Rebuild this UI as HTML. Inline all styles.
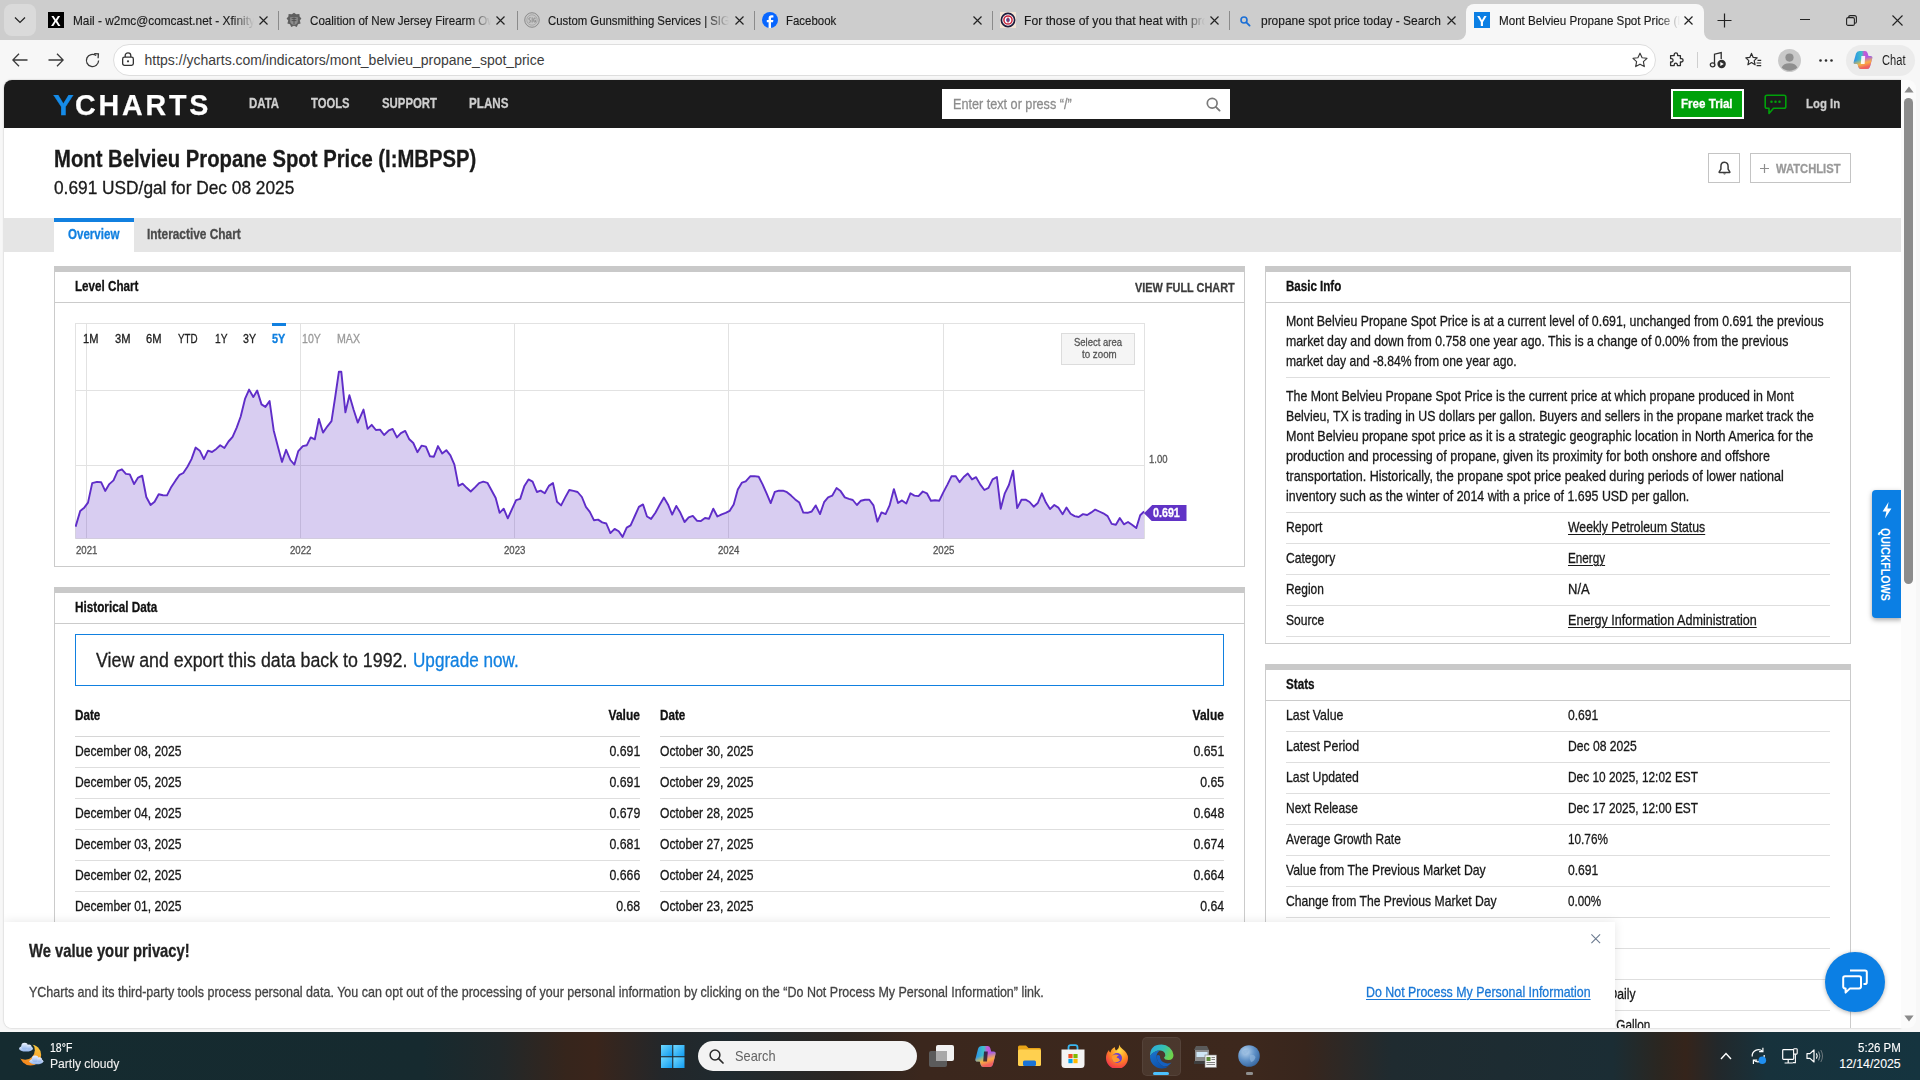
<!DOCTYPE html><html lang="en"><head><meta charset="utf-8"><title>Mont Belvieu Propane Spot Price</title><style>
html,body{margin:0;padding:0}
body{width:1920px;height:1080px;overflow:hidden;background:#f7f7f7;position:relative;font-family:"Liberation Sans",sans-serif;-webkit-font-smoothing:antialiased}
.b{position:absolute;display:block}
.t{position:absolute;white-space:nowrap;line-height:1;transform-origin:0 0;display:block;margin:0;padding:0;font-weight:400;font-style:normal;text-decoration:none}
#vp{position:absolute;left:4px;top:80px;width:1897px;height:948px;overflow:hidden;background:#fff;border-radius:8px 0 0 8px;box-shadow:0 0 2px rgba(0,0,0,.28)}
#pg{position:absolute;left:-4px;top:-80px;width:1920px;height:1080px}

</style></head><body>
<div class="b" style="left:0px;top:0px;width:1920px;height:40px;background:#cdcdcd;"></div>
<div class="b" style="left:4px;top:4px;width:32px;height:32px;background:#dadada;border-radius:8px;"></div>
<svg class="b" style="left:14px;top:16px;" width="12" height="8" viewBox="0 0 12 8"><path d="M1 1.5 L6 6.5 L11 1.5" fill="none" stroke="#222" stroke-width="1.2"/></svg>
<div class="b" style="left:1466px;top:4px;width:238px;height:36px;background:#f7f7f7;border-radius:8px 8px 0 0;"></div>
<svg class="b" style="left:1458px;top:32px;" width="8" height="8" viewBox="0 0 8 8"><path d="M8 0 V8 H0 A8 8 0 0 0 8 0Z" fill="#f7f7f7"/></svg>
<svg class="b" style="left:1704px;top:32px;" width="8" height="8" viewBox="0 0 8 8"><path d="M0 0 V8 H8 A8 8 0 0 1 0 0Z" fill="#f7f7f7"/></svg>
<div class="b" style="left:72.7px;top:12px;width:181px;height:18px;overflow:hidden;-webkit-mask-image:linear-gradient(90deg,#000 88%,transparent 100%);mask-image:linear-gradient(90deg,#000 88%,transparent 100%);">
<span class="t" style="top:3px;font-size:12.4px;color:#1a1a1a;left:0px;transform:scaleX(0.9561);-webkit-text-stroke:0.15px;">Mail - w2mc@comcast.net - Xfinity Connect</span>
</div>
<svg class="b" style="left:258.8px;top:16px;" width="9" height="9" viewBox="0 0 9 9"><path d="M0.5 0.5 L8.5 8.5 M8.5 0.5 L0.5 8.5" stroke="#222" stroke-width="1.15" fill="none"/></svg>
<div class="b" style="left:278px;top:10.5px;width:1px;height:19px;background:#8b8b8b;"></div>
<div class="b" style="left:310.2px;top:12px;width:181px;height:18px;overflow:hidden;-webkit-mask-image:linear-gradient(90deg,#000 88%,transparent 100%);mask-image:linear-gradient(90deg,#000 88%,transparent 100%);">
<span class="t" style="top:3px;font-size:12.4px;color:#1a1a1a;left:0px;transform:scaleX(0.9367);-webkit-text-stroke:0.15px;">Coalition of New Jersey Firearm Owners</span>
</div>
<svg class="b" style="left:496.3px;top:16px;" width="9" height="9" viewBox="0 0 9 9"><path d="M0.5 0.5 L8.5 8.5 M8.5 0.5 L0.5 8.5" stroke="#222" stroke-width="1.15" fill="none"/></svg>
<div class="b" style="left:516.5px;top:10.5px;width:1px;height:19px;background:#8b8b8b;"></div>
<div class="b" style="left:548.2px;top:12px;width:181px;height:18px;overflow:hidden;-webkit-mask-image:linear-gradient(90deg,#000 88%,transparent 100%);mask-image:linear-gradient(90deg,#000 88%,transparent 100%);">
<span class="t" style="top:3px;font-size:12.4px;color:#1a1a1a;left:0px;transform:scaleX(0.9180);-webkit-text-stroke:0.15px;">Custom Gunsmithing Services | SIG SAUER</span>
</div>
<svg class="b" style="left:734.5px;top:16px;" width="9" height="9" viewBox="0 0 9 9"><path d="M0.5 0.5 L8.5 8.5 M8.5 0.5 L0.5 8.5" stroke="#222" stroke-width="1.15" fill="none"/></svg>
<div class="b" style="left:754.3px;top:10.5px;width:1px;height:19px;background:#8b8b8b;"></div>
<div class="b" style="left:786.2px;top:12px;width:181px;height:18px;overflow:hidden;">
<span class="t" style="top:3px;font-size:12.4px;color:#1a1a1a;left:0px;transform:scaleX(0.9236);-webkit-text-stroke:0.15px;">Facebook</span>
</div>
<svg class="b" style="left:973px;top:16px;" width="9" height="9" viewBox="0 0 9 9"><path d="M0.5 0.5 L8.5 8.5 M8.5 0.5 L0.5 8.5" stroke="#222" stroke-width="1.15" fill="none"/></svg>
<div class="b" style="left:992.3px;top:10.5px;width:1px;height:19px;background:#8b8b8b;"></div>
<div class="b" style="left:1024.2px;top:12px;width:181px;height:18px;overflow:hidden;-webkit-mask-image:linear-gradient(90deg,#000 88%,transparent 100%);mask-image:linear-gradient(90deg,#000 88%,transparent 100%);">
<span class="t" style="top:3px;font-size:12.4px;color:#1a1a1a;left:0px;transform:scaleX(0.9819);-webkit-text-stroke:0.15px;">For those of you that heat with propane</span>
</div>
<svg class="b" style="left:1209.5px;top:16px;" width="9" height="9" viewBox="0 0 9 9"><path d="M0.5 0.5 L8.5 8.5 M8.5 0.5 L0.5 8.5" stroke="#222" stroke-width="1.15" fill="none"/></svg>
<div class="b" style="left:1229.3px;top:10.5px;width:1px;height:19px;background:#8b8b8b;"></div>
<div class="b" style="left:1261.2px;top:12px;width:181px;height:18px;overflow:hidden;">
<span class="t" style="top:3px;font-size:12.4px;color:#1a1a1a;left:0px;transform:scaleX(0.9636);-webkit-text-stroke:0.15px;">propane spot price today - Search</span>
</div>
<svg class="b" style="left:1447px;top:16px;" width="9" height="9" viewBox="0 0 9 9"><path d="M0.5 0.5 L8.5 8.5 M8.5 0.5 L0.5 8.5" stroke="#222" stroke-width="1.15" fill="none"/></svg>
<div class="b" style="left:1499px;top:12px;width:181px;height:18px;overflow:hidden;-webkit-mask-image:linear-gradient(90deg,#000 88%,transparent 100%);mask-image:linear-gradient(90deg,#000 88%,transparent 100%);">
<span class="t" style="top:3px;font-size:12.4px;color:#1a1a1a;left:0px;transform:scaleX(0.9383);-webkit-text-stroke:0.15px;">Mont Belvieu Propane Spot Price (I:MBPSP)</span>
</div>
<svg class="b" style="left:1683.8px;top:16px;" width="9" height="9" viewBox="0 0 9 9"><path d="M0.5 0.5 L8.5 8.5 M8.5 0.5 L0.5 8.5" stroke="#222" stroke-width="1.15" fill="none"/></svg>
<div class="b" style="left:48px;top:12px;width:16px;height:16px;background:#000;"></div>
<span class="t" style="top:13px;font-size:15px;color:#fff;font-weight:700;left:50.5px;transform:scaleX(0.9500);">X</span>
<svg class="b" style="left:286.2px;top:12px;" width="16" height="16" viewBox="0 0 16 16"><path d="M8 0.8 L10.2 2.2 L13.4 2 L13.6 4.6 L15.4 6.4 L13.8 8.4 L14.6 11.4 L12 12.2 L10.8 15 L8 13.8 L5.2 15 L4 12.2 L1.4 11.4 L2.2 8.4 L0.6 6.4 L2.4 4.6 L2.6 2 L5.8 2.2Z" fill="#5f5f5f"/><path d="M4.2 5.2 H11.8 V9.2 Q11.8 12 8 13 Q4.2 12 4.2 9.2Z" fill="#8d8d8d"/><path d="M5.6 6.6 H10.4 M5.6 8.6 H10.4 M8 5.4 V12.4" stroke="#4e4e4e" stroke-width="0.9"/></svg>
<svg class="b" style="left:523.8px;top:12px;" width="16" height="16" viewBox="0 0 16 16"><circle cx="8" cy="8" r="7.3" fill="#c6c6c6" stroke="#8c8c8c" stroke-width="1"/><circle cx="8" cy="8" r="5.2" fill="none" stroke="#a2a2a2" stroke-width="0.8"/><path d="M6.6 5.6 Q4.6 5.6 4.8 7 Q5 8 6 8.2 Q7 8.5 6.8 9.6 Q6.4 10.6 4.8 10.2 M8.2 5.4 V10.6 M11.6 6.2 Q9.6 5 9.6 8 Q9.6 11 11.6 10 V8.4 H10.6" fill="none" stroke="#8a8a8a" stroke-width="0.9"/></svg>
<svg class="b" style="left:762px;top:12px;" width="16" height="16" viewBox="0 0 16 16"><circle cx="8" cy="8" r="8" fill="#0866ff"/><path d="M9 16 V10.3 H11 L11.4 8 H9 V6.6 C9 5.8 9.3 5.4 10.3 5.4 H11.4 V3.4 C11 3.35 10.3 3.3 9.6 3.3 C7.7 3.3 6.6 4.4 6.6 6.4 V8 H4.8 V10.3 H6.6 V15.9Z" fill="#fff"/></svg>
<svg class="b" style="left:1000px;top:12px;" width="16" height="16" viewBox="0 0 16 16"><rect x="0" y="0" width="16" height="16" fill="#f1e4d4"/><circle cx="8" cy="8" r="6.6" fill="#fff" stroke="#1d1b3c" stroke-width="1.7"/><circle cx="8" cy="8" r="4.1" fill="none" stroke="#c8243a" stroke-width="1.5"/><circle cx="8" cy="8" r="1.9" fill="#3a4aa0"/><path d="M8 5.4 V10.6" stroke="#c8243a" stroke-width="1"/></svg>
<svg class="b" style="left:1240px;top:16px;" width="11" height="11" viewBox="0 0 11 11"><circle cx="4" cy="4" r="3" fill="none" stroke="#1b6fd6" stroke-width="1.6"/><path d="M6.3 6.3 L9.6 9.6" stroke="#1b6fd6" stroke-width="1.8" stroke-linecap="round"/></svg>
<div class="b" style="left:1474px;top:12px;width:16px;height:16px;background:#0b7fe4;"></div>
<span class="t" style="top:13px;font-size:15px;color:#fff;font-weight:700;left:1476.5px;transform:scaleX(0.9800);">Y</span>
<svg class="b" style="left:1717px;top:13px;" width="15" height="15" viewBox="0 0 15 15"><path d="M7.5 0.5 V14.5 M0.5 7.5 H14.5" stroke="#222" stroke-width="1.2"/></svg>
<div class="b" style="left:1800px;top:19px;width:10px;height:1.1px;background:#222;"></div>
<svg class="b" style="left:1846px;top:14.5px;" width="11" height="11" viewBox="0 0 11 11"><rect x="0.6" y="2.6" width="7.8" height="7.8" rx="1.5" fill="none" stroke="#222" stroke-width="1.1"/><path d="M2.8 2.4 V2 Q2.8 0.6 4.2 0.6 H8.4 Q10.4 0.6 10.4 2.6 V6.8 Q10.4 8.2 9 8.2 H8.6" fill="none" stroke="#222" stroke-width="1.1"/></svg>
<svg class="b" style="left:1892px;top:15px;" width="11" height="11" viewBox="0 0 11 11"><path d="M0.5 0.5 L10.5 10.5 M10.5 0.5 L0.5 10.5" stroke="#222" stroke-width="1.1"/></svg>
<div class="b" style="left:0px;top:40px;width:1920px;height:40px;background:#f7f7f7;"></div>
<svg class="b" style="left:12px;top:53px;" width="16" height="14" viewBox="0 0 16 14"><path d="M7 0.7 L0.8 7 L7 13.3 M0.8 7 H15.5" fill="none" stroke="#3a3a3a" stroke-width="1.3"/></svg>
<svg class="b" style="left:48px;top:53px;" width="16" height="14" viewBox="0 0 16 14"><path d="M9 0.7 L15.2 7 L9 13.3 M15.2 7 H0.5" fill="none" stroke="#3a3a3a" stroke-width="1.3"/></svg>
<svg class="b" style="left:84.5px;top:52.5px;" width="15" height="15" viewBox="0 0 15 15"><path d="M13.6 7.5 A6.1 6.1 0 1 1 11.2 2.6" fill="none" stroke="#3a3a3a" stroke-width="1.3"/><path d="M9.2 0.6 L13.4 0.9 L13.1 5.2" fill="none" stroke="#3a3a3a" stroke-width="1.3"/></svg>
<div class="b" style="left:112.5px;top:44px;width:1543px;height:32px;background:#fff;border-radius:16px;border:1px solid #dedede;box-sizing:border-box;"></div>
<svg class="b" style="left:122px;top:52px;" width="12" height="14" viewBox="0 0 12 14"><rect x="0.65" y="5.2" width="10.7" height="8.1" rx="1.8" fill="none" stroke="#333" stroke-width="1.3"/><path d="M3.2 5 V3.6 A2.8 2.8 0 0 1 8.8 3.6 V5" fill="none" stroke="#333" stroke-width="1.3"/><circle cx="6" cy="9.3" r="1.1" fill="#333"/></svg>
<span class="t" style="top:53px;font-size:14px;color:#3c3c3c;left:144.5px;">https://ycharts.com/indicators/mont_belvieu_propane_spot_price</span>
<svg class="b" style="left:1632px;top:52px;" width="16" height="16" viewBox="0 0 16 16"><path d="M8 1.2 L10.1 5.7 L15 6.3 L11.4 9.7 L12.3 14.6 L8 12.2 L3.7 14.6 L4.6 9.7 L1 6.3 L5.9 5.7Z" fill="none" stroke="#3a3a3a" stroke-width="1.15" stroke-linejoin="round"/></svg>
<svg class="b" style="left:1668px;top:52px;" width="16" height="16" viewBox="0 0 16 16"><path d="M6.2 2.6 A1.7 1.7 0 0 1 9.6 2.6 V3.6 H12.4 V6.6 H13.4 A1.7 1.7 0 0 1 13.4 10 H12.4 V13.6 H9.4 V12.8 A1.6 1.6 0 0 0 6.2 12.8 V13.6 H2.6 V10 H3.4 A1.7 1.7 0 0 0 3.4 6.6 H2.6 V3.6 H6.2Z" fill="none" stroke="#2e2e2e" stroke-width="1.3" stroke-linejoin="round"/></svg>
<div class="b" style="left:1696.5px;top:52px;width:1px;height:16px;background:#cfcfcf;"></div>
<svg class="b" style="left:1709px;top:51px;" width="18" height="18" viewBox="0 0 18 18"><path d="M5.5 13.5 V3.2 L12.2 1.6 V8" fill="none" stroke="#2e2e2e" stroke-width="1.3"/><ellipse cx="3.6" cy="13.8" rx="2.3" ry="2" fill="none" stroke="#2e2e2e" stroke-width="1.3"/><circle cx="12.6" cy="13" r="4.2" fill="#2e2e2e"/><path d="M11.3 10.9 L14.8 13 L11.3 15.1Z" fill="#fff"/></svg>
<svg class="b" style="left:1745px;top:52px;" width="17" height="16" viewBox="0 0 17 16"><path d="M6.5 1.4 L8.2 5.4 L12.2 5.8 L9.2 8.6 L10.1 12.8 L6.5 10.6 L2.9 12.8 L3.8 8.6 L0.8 5.8 L4.8 5.4Z" fill="none" stroke="#2e2e2e" stroke-width="1.2" stroke-linejoin="round"/><path d="M12.5 8.3 H16.2 M11.6 11 H16.2 M11.6 13.7 H16.2" stroke="#2e2e2e" stroke-width="1.2"/></svg>
<svg class="b" style="left:1777.5px;top:48.5px;" width="23" height="23" viewBox="0 0 23 23"><circle cx="11.5" cy="11.5" r="11.5" fill="#c9c9c9"/><circle cx="11.5" cy="8.6" r="4.1" fill="#8f8f8f"/><path d="M3.6 18.6 A8.3 6.2 0 0 1 19.4 18.6 A11.5 11.5 0 0 1 3.6 18.6Z" fill="#8f8f8f"/></svg>
<svg class="b" style="left:1818.5px;top:58.5px;" width="14" height="3" viewBox="0 0 14 3"><circle cx="1.5" cy="1.5" r="1.3" fill="#2e2e2e"/><circle cx="7" cy="1.5" r="1.3" fill="#2e2e2e"/><circle cx="12.5" cy="1.5" r="1.3" fill="#2e2e2e"/></svg>
<div class="b" style="left:1846px;top:44.5px;width:69px;height:31px;background:#ebebeb;border-radius:15.5px;"></div>
<svg class="b" style="left:1852px;top:49px;" width="22" height="22" viewBox="0 0 22 22"><defs><linearGradient id="cpa" x1="0" y1="0" x2="1" y2="0"><stop offset="0" stop-color="#2b8fe9"/><stop offset="0.42" stop-color="#3fc0c8"/><stop offset="0.58" stop-color="#c65ad6"/><stop offset="1" stop-color="#8f5cf2"/></linearGradient><linearGradient id="cpb" x1="0" y1="0" x2="0.3" y2="1"><stop offset="0" stop-color="#ffc83c" stop-opacity="0"/><stop offset="0.5" stop-color="#ffc83c" stop-opacity="0"/><stop offset="0.78" stop-color="#ffb03c" stop-opacity=".95"/><stop offset="1" stop-color="#f0605f" stop-opacity="1"/></linearGradient></defs><path id="cps" d="M7.5 2 H13 Q15 2 15.6 4 L16.5 7 H18.5 Q21 7 20.2 9.6 L18 17.5 Q17.3 20 14.8 20 H9 Q7 20 6.4 18 L5.5 15 H3.5 Q1 15 1.8 12.4 L4 4.5 Q4.7 2 7.5 2Z" fill="url(#cpa)"/><path d="M7.5 2 H13 Q15 2 15.6 4 L16.5 7 H18.5 Q21 7 20.2 9.6 L18 17.5 Q17.3 20 14.8 20 H9 Q7 20 6.4 18 L5.5 15 H3.5 Q1 15 1.8 12.4 L4 4.5 Q4.7 2 7.5 2Z" fill="url(#cpb)"/><path d="M9.4 7 H13.2 L12.6 15 H8.8Z" fill="#fff" opacity=".92"/></svg>
<span class="t" style="top:53px;font-size:14px;color:#1f1f1f;left:1881.5px;transform:scaleX(0.7945);">Chat</span>
<div id="vp"><div id="pg">
<header>
<div class="b" style="left:0px;top:80px;width:1920px;height:48px;background:#1b1b1b;"></div>
<span class="t" style="top:90px;font-size:30.2px;color:#158be8;font-weight:700;left:53.416px;transform:scaleX(1.0327);-webkit-text-stroke:0.25px;">Y</span>
<span class="t" style="top:90px;font-size:30.2px;color:#fff;font-weight:700;letter-spacing:3px;left:75.316px;transform:scaleX(0.9473);-webkit-text-stroke:0.25px;">CHARTS</span>
<a class="t" style="top:96px;font-size:14.5px;color:#cfcfcf;font-weight:700;left:248.72px;transform:scaleX(0.7869);-webkit-text-stroke:0.3px;">DATA</a>
<a class="t" style="top:96px;font-size:14.5px;color:#cfcfcf;font-weight:700;left:311.22px;transform:scaleX(0.7748);-webkit-text-stroke:0.3px;">TOOLS</a>
<a class="t" style="top:96px;font-size:14.5px;color:#cfcfcf;font-weight:700;left:381.72px;transform:scaleX(0.7847);-webkit-text-stroke:0.3px;">SUPPORT</a>
<a class="t" style="top:96px;font-size:14.5px;color:#cfcfcf;font-weight:700;left:468.72px;transform:scaleX(0.8036);-webkit-text-stroke:0.3px;">PLANS</a>
<div class="b" style="left:942px;top:89px;width:288px;height:30px;background:#fff;"></div>
<span class="t" style="top:96px;font-size:15.5px;color:#8c8c8c;left:952.7px;transform:scaleX(0.8154);-webkit-text-stroke:0.3px;">Enter text or press “/”</span>
<svg class="b" style="left:1206px;top:96.5px;" width="15" height="15" viewBox="0 0 15 15"><circle cx="6.2" cy="6.2" r="4.9" fill="none" stroke="#7a7a7a" stroke-width="1.7"/><path d="M9.8 9.8 L13.6 13.6" stroke="#7a7a7a" stroke-width="1.9" stroke-linecap="round"/></svg>
<div class="b" style="left:1671px;top:89px;width:73.3px;height:30px;background:#00a10a;border:2px solid #fff;box-sizing:border-box;"></div>
<a class="t" style="top:97px;font-size:13.7px;color:#fff;font-weight:700;left:1681.43px;transform:scaleX(0.8476);-webkit-text-stroke:0.3px;">Free Trial</a>
<svg class="b" style="left:1764px;top:93.5px;" width="23" height="22" viewBox="0 0 23 22"><path d="M3 1.2 H20 Q21.8 1.2 21.8 3 V12.4 Q21.8 14.2 20 14.2 H9.5 L5 19.5 V14.2 H3 Q1.2 14.2 1.2 12.4 V3 Q1.2 1.2 3 1.2Z" fill="none" stroke="#00a10a" stroke-width="1.6" stroke-linejoin="round"/><circle cx="7.5" cy="7.8" r="1.25" fill="#00a10a"/><circle cx="11.5" cy="7.8" r="1.25" fill="#00a10a"/><circle cx="15.5" cy="7.8" r="1.25" fill="#00a10a"/></svg>
<a class="t" style="top:97px;font-size:13.7px;color:#cfcfcf;font-weight:700;left:1806.43px;transform:scaleX(0.8304);-webkit-text-stroke:0.3px;">Log In</a>
</header><main>
<h1 class="t" style="top:147px;font-size:23.8px;color:#1a1a1a;font-weight:700;left:54.24px;transform:scaleX(0.8517);-webkit-text-stroke:0.3px;">Mont Belvieu Propane Spot Price (I:MBPSP)</h1>
<span class="t" style="top:179px;font-size:18.6px;color:#1a1a1a;left:54.34px;transform:scaleX(0.9299);-webkit-text-stroke:0.3px;">0.691 USD/gal for Dec 08 2025</span>
<div class="b" style="left:1708px;top:153px;width:32px;height:30px;background:#fff;border:1px solid #c4c4c4;box-sizing:border-box;"></div>
<svg class="b" style="left:1717.5px;top:161px;" width="13" height="15" viewBox="0 0 13 15"><path d="M6.5 1.2 C3.9 1.2 2.9 3.2 2.9 5.4 V8.2 L1.2 10.8 V11.4 H11.8 V10.8 L10.1 8.2 V5.4 C10.1 3.2 9.1 1.2 6.5 1.2Z" fill="none" stroke="#3b3b3b" stroke-width="1.5" stroke-linejoin="round"/><path d="M5 12.6 Q6.5 14.4 8 12.6Z" fill="#3b3b3b"/></svg>
<div class="b" style="left:1750px;top:153px;width:101px;height:30px;background:#fff;border:1px solid #c4c4c4;box-sizing:border-box;"></div>
<svg class="b" style="left:1760px;top:163.5px;" width="9" height="9" viewBox="0 0 9 9"><path d="M4.5 0 V9 M0 4.5 H9" stroke="#8e8e8e" stroke-width="1.2"/></svg>
<span class="t" style="top:163px;font-size:12.9px;color:#999;font-weight:700;left:1776.05px;transform:scaleX(0.8689);-webkit-text-stroke:0.3px;">WATCHLIST</span>
<div class="b" style="left:0px;top:218px;width:1920px;height:34px;background:#e5e5e5;"></div>
<div class="b" style="left:54px;top:218px;width:80px;height:34px;background:#fff;border-top:4px solid #1180e0;box-sizing:border-box;"></div>
<a class="t" style="top:227px;font-size:14.5px;color:#1180e0;font-weight:700;left:68.02px;transform:scaleX(0.7969);-webkit-text-stroke:0.3px;">Overview</a>
<a class="t" style="top:227px;font-size:14.5px;color:#4a4a4a;font-weight:700;left:147.22px;transform:scaleX(0.8197);-webkit-text-stroke:0.3px;">Interactive Chart</a>
<div class="b" style="left:54px;top:266px;width:1191px;height:301px;background:#fff;border:1px solid #cbcbcb;border-top:6px solid #c9c9c9;box-sizing:border-box;"></div>
<div class="b" style="left:55px;top:302px;width:1189px;height:1px;background:#cbcbcb;"></div>
<h2 class="t" style="top:279px;font-size:14.5px;color:#111;font-weight:700;left:75.02px;transform:scaleX(0.8027);-webkit-text-stroke:0.3px;">Level Chart</h2>
<div class="b" style="left:54px;top:587px;width:1191px;height:500px;background:#fff;border:1px solid #cbcbcb;border-top:6px solid #c9c9c9;box-sizing:border-box;"></div>
<div class="b" style="left:55px;top:623px;width:1189px;height:1px;background:#cbcbcb;"></div>
<h2 class="t" style="top:600px;font-size:14.5px;color:#111;font-weight:700;left:75.02px;transform:scaleX(0.8095);-webkit-text-stroke:0.3px;">Historical Data</h2>
<div class="b" style="left:1265px;top:266px;width:586px;height:378px;background:#fff;border:1px solid #cbcbcb;border-top:6px solid #c9c9c9;box-sizing:border-box;"></div>
<div class="b" style="left:1266px;top:302px;width:584px;height:1px;background:#cbcbcb;"></div>
<h2 class="t" style="top:279px;font-size:14.5px;color:#111;font-weight:700;left:1286.02px;transform:scaleX(0.7980);-webkit-text-stroke:0.3px;">Basic Info</h2>
<div class="b" style="left:1265px;top:664px;width:586px;height:460px;background:#fff;border:1px solid #cbcbcb;border-top:6px solid #c9c9c9;box-sizing:border-box;"></div>
<div class="b" style="left:1266px;top:700px;width:584px;height:1px;background:#cbcbcb;"></div>
<h2 class="t" style="top:677px;font-size:14.5px;color:#111;font-weight:700;left:1286.02px;transform:scaleX(0.8035);-webkit-text-stroke:0.3px;">Stats</h2>
<a class="t" style="top:281px;font-size:13.4px;color:#3c3c3c;font-weight:700;left:1135.04px;transform:scaleX(0.8139);-webkit-text-stroke:0.3px;">VIEW FULL CHART</a>
<svg class="b" style="left:75px;top:323px;" width="1070" height="216" viewBox="0 0 1070 216"><path d="M11.5 0.5 V215.5" stroke="#e2e2e2" stroke-width="1"/><path d="M225.5 0.5 V215.5" stroke="#e2e2e2" stroke-width="1"/><path d="M439.5 0.5 V215.5" stroke="#e2e2e2" stroke-width="1"/><path d="M653.5 0.5 V215.5" stroke="#e2e2e2" stroke-width="1"/><path d="M868.5 0.5 V215.5" stroke="#e2e2e2" stroke-width="1"/><path d="M0.5 67.5 H1069.5" stroke="#e2e2e2" stroke-width="1"/><path d="M0.5 142.5 H1069.5" stroke="#e2e2e2" stroke-width="1"/><rect x="0.5" y="0.5" width="1069" height="215" fill="none" stroke="#e2e2e2" stroke-width="1"/><path d="M0.6,215.5 L0.6,203.7 L5.2,187.9 L8.9,185.1 L13.0,179.6 L17.2,160.1 L21.9,158.9 L26.1,159.2 L30.2,167.9 L34.3,161.1 L38.5,157.4 L42.6,148.1 L46.9,146.3 L50.9,150.9 L54.8,151.4 L59.1,161.1 L63.1,154.6 L67.2,152.7 L71.3,174.0 L75.6,182.0 L79.6,178.7 L83.7,171.3 L88.0,172.2 L92.0,172.4 L96.3,163.9 L100.6,157.4 L104.6,151.8 L108.3,150.0 L112.6,143.5 L116.5,136.1 L120.6,124.6 L124.8,127.7 L128.9,136.1 L133.0,127.7 L137.0,129.0 L141.3,125.9 L145.2,122.2 L149.4,125.0 L153.5,118.5 L157.6,113.9 L161.7,104.6 L165.7,93.5 L170.0,75.9 L174.1,66.6 L178.3,74.0 L182.2,67.6 L186.5,81.4 L190.4,83.9 L194.6,78.1 L198.7,107.4 L203.0,124.0 L207.0,138.9 L211.1,126.8 L215.4,137.0 L219.4,141.6 L223.3,128.1 L227.8,123.1 L231.9,122.2 L235.7,114.4 L239.8,116.3 L243.9,95.9 L248.0,109.6 L252.4,103.3 L256.5,98.1 L260.2,74.0 L263.9,48.7 L266.3,48.7 L270.4,89.4 L274.4,72.2 L278.7,87.0 L282.8,99.6 L288.5,86.6 L292.6,105.9 L296.7,101.8 L300.9,107.0 L305.0,106.6 L309.1,112.0 L313.9,107.4 L317.6,105.9 L321.9,114.4 L325.9,110.1 L330.2,107.9 L334.3,116.3 L338.3,120.0 L342.4,129.2 L346.7,122.6 L350.9,123.7 L355.0,133.3 L358.9,133.7 L363.0,123.1 L367.2,130.5 L371.3,127.2 L375.4,132.4 L379.4,141.6 L383.5,162.9 L387.6,160.7 L391.7,164.8 L395.7,168.5 L400.0,164.4 L404.1,160.1 L408.3,158.7 L412.4,159.8 L416.5,167.2 L420.7,175.0 L424.6,189.8 L428.7,185.7 L432.8,195.3 L437.0,186.1 L441.1,177.2 L445.2,175.9 L449.4,162.9 L453.5,156.4 L457.6,158.7 L461.9,169.0 L465.6,167.6 L469.8,170.3 L473.9,162.9 L478.0,160.1 L482.0,178.7 L486.1,182.4 L490.2,174.4 L494.3,167.0 L498.5,167.9 L502.6,169.0 L506.9,174.0 L510.9,183.9 L514.8,188.9 L518.9,197.2 L523.1,196.6 L527.2,199.4 L531.3,200.5 L535.4,210.1 L539.6,205.9 L543.7,208.3 L547.6,213.9 L551.7,204.6 L555.6,202.4 L559.6,193.5 L563.9,183.9 L568.0,181.4 L572.0,193.5 L576.1,195.9 L580.4,189.8 L584.6,182.0 L588.9,174.6 L593.0,181.4 L597.2,191.6 L601.3,182.9 L605.4,189.8 L609.6,199.0 L613.7,194.4 L617.8,192.9 L621.9,197.7 L625.9,198.1 L630.0,195.0 L634.1,195.7 L638.3,185.7 L642.4,193.5 L646.7,191.3 L650.7,189.8 L654.6,187.9 L658.7,181.4 L662.8,166.6 L667.0,159.6 L670.7,158.3 L675.2,153.3 L679.4,153.1 L683.7,153.7 L687.6,161.4 L691.7,170.7 L695.7,180.1 L699.8,168.9 L703.9,167.7 L708.0,167.6 L712.0,169.2 L716.1,172.6 L720.2,176.4 L724.3,179.6 L728.3,189.6 L732.6,189.8 L736.7,188.5 L740.7,182.4 L745.0,191.1 L749.1,179.2 L753.1,174.4 L757.2,172.7 L761.5,165.1 L765.6,168.1 L769.8,174.4 L773.9,175.9 L777.8,177.0 L781.9,182.0 L785.9,177.7 L790.0,176.8 L794.3,176.8 L798.5,182.4 L802.4,198.7 L806.5,189.4 L810.6,191.1 L814.6,182.4 L818.9,166.1 L823.0,180.0 L827.0,177.4 L831.3,180.5 L835.4,170.3 L839.4,172.6 L843.5,173.1 L847.8,168.5 L851.9,170.3 L855.9,177.7 L860.0,177.2 L864.3,177.7 L868.3,169.4 L872.4,161.6 L876.5,153.3 L880.6,153.1 L884.6,159.2 L888.7,154.0 L892.8,150.5 L897.0,156.4 L901.1,154.2 L905.2,161.4 L909.4,167.0 L913.5,164.8 L917.6,156.4 L921.9,154.0 L925.7,185.7 L929.8,170.3 L933.9,162.0 L938.1,147.6 L942.2,185.1 L946.5,176.8 L950.6,176.6 L954.6,179.0 L958.7,183.7 L962.8,180.0 L966.9,170.3 L970.9,179.6 L975.0,186.1 L979.3,182.0 L983.3,184.6 L987.6,191.3 L991.5,184.6 L995.6,190.7 L999.6,193.1 L1003.7,194.0 L1008.0,191.1 L1012.2,192.0 L1016.3,189.4 L1020.2,186.6 L1024.3,188.5 L1028.3,190.3 L1032.6,193.1 L1036.7,200.9 L1040.9,201.8 L1044.8,195.0 L1048.9,201.3 L1053.0,199.0 L1057.0,201.8 L1061.3,205.1 L1065.2,192.2 L1069.1,188.5 L1069.1,215.5 Z" fill="#5e2fc6" fill-opacity="0.24"/><polyline points="0.6,203.7 5.2,187.9 8.9,185.1 13.0,179.6 17.2,160.1 21.9,158.9 26.1,159.2 30.2,167.9 34.3,161.1 38.5,157.4 42.6,148.1 46.9,146.3 50.9,150.9 54.8,151.4 59.1,161.1 63.1,154.6 67.2,152.7 71.3,174.0 75.6,182.0 79.6,178.7 83.7,171.3 88.0,172.2 92.0,172.4 96.3,163.9 100.6,157.4 104.6,151.8 108.3,150.0 112.6,143.5 116.5,136.1 120.6,124.6 124.8,127.7 128.9,136.1 133.0,127.7 137.0,129.0 141.3,125.9 145.2,122.2 149.4,125.0 153.5,118.5 157.6,113.9 161.7,104.6 165.7,93.5 170.0,75.9 174.1,66.6 178.3,74.0 182.2,67.6 186.5,81.4 190.4,83.9 194.6,78.1 198.7,107.4 203.0,124.0 207.0,138.9 211.1,126.8 215.4,137.0 219.4,141.6 223.3,128.1 227.8,123.1 231.9,122.2 235.7,114.4 239.8,116.3 243.9,95.9 248.0,109.6 252.4,103.3 256.5,98.1 260.2,74.0 263.9,48.7 266.3,48.7 270.4,89.4 274.4,72.2 278.7,87.0 282.8,99.6 288.5,86.6 292.6,105.9 296.7,101.8 300.9,107.0 305.0,106.6 309.1,112.0 313.9,107.4 317.6,105.9 321.9,114.4 325.9,110.1 330.2,107.9 334.3,116.3 338.3,120.0 342.4,129.2 346.7,122.6 350.9,123.7 355.0,133.3 358.9,133.7 363.0,123.1 367.2,130.5 371.3,127.2 375.4,132.4 379.4,141.6 383.5,162.9 387.6,160.7 391.7,164.8 395.7,168.5 400.0,164.4 404.1,160.1 408.3,158.7 412.4,159.8 416.5,167.2 420.7,175.0 424.6,189.8 428.7,185.7 432.8,195.3 437.0,186.1 441.1,177.2 445.2,175.9 449.4,162.9 453.5,156.4 457.6,158.7 461.9,169.0 465.6,167.6 469.8,170.3 473.9,162.9 478.0,160.1 482.0,178.7 486.1,182.4 490.2,174.4 494.3,167.0 498.5,167.9 502.6,169.0 506.9,174.0 510.9,183.9 514.8,188.9 518.9,197.2 523.1,196.6 527.2,199.4 531.3,200.5 535.4,210.1 539.6,205.9 543.7,208.3 547.6,213.9 551.7,204.6 555.6,202.4 559.6,193.5 563.9,183.9 568.0,181.4 572.0,193.5 576.1,195.9 580.4,189.8 584.6,182.0 588.9,174.6 593.0,181.4 597.2,191.6 601.3,182.9 605.4,189.8 609.6,199.0 613.7,194.4 617.8,192.9 621.9,197.7 625.9,198.1 630.0,195.0 634.1,195.7 638.3,185.7 642.4,193.5 646.7,191.3 650.7,189.8 654.6,187.9 658.7,181.4 662.8,166.6 667.0,159.6 670.7,158.3 675.2,153.3 679.4,153.1 683.7,153.7 687.6,161.4 691.7,170.7 695.7,180.1 699.8,168.9 703.9,167.7 708.0,167.6 712.0,169.2 716.1,172.6 720.2,176.4 724.3,179.6 728.3,189.6 732.6,189.8 736.7,188.5 740.7,182.4 745.0,191.1 749.1,179.2 753.1,174.4 757.2,172.7 761.5,165.1 765.6,168.1 769.8,174.4 773.9,175.9 777.8,177.0 781.9,182.0 785.9,177.7 790.0,176.8 794.3,176.8 798.5,182.4 802.4,198.7 806.5,189.4 810.6,191.1 814.6,182.4 818.9,166.1 823.0,180.0 827.0,177.4 831.3,180.5 835.4,170.3 839.4,172.6 843.5,173.1 847.8,168.5 851.9,170.3 855.9,177.7 860.0,177.2 864.3,177.7 868.3,169.4 872.4,161.6 876.5,153.3 880.6,153.1 884.6,159.2 888.7,154.0 892.8,150.5 897.0,156.4 901.1,154.2 905.2,161.4 909.4,167.0 913.5,164.8 917.6,156.4 921.9,154.0 925.7,185.7 929.8,170.3 933.9,162.0 938.1,147.6 942.2,185.1 946.5,176.8 950.6,176.6 954.6,179.0 958.7,183.7 962.8,180.0 966.9,170.3 970.9,179.6 975.0,186.1 979.3,182.0 983.3,184.6 987.6,191.3 991.5,184.6 995.6,190.7 999.6,193.1 1003.7,194.0 1008.0,191.1 1012.2,192.0 1016.3,189.4 1020.2,186.6 1024.3,188.5 1028.3,190.3 1032.6,193.1 1036.7,200.9 1040.9,201.8 1044.8,195.0 1048.9,201.3 1053.0,199.0 1057.0,201.8 1061.3,205.1 1065.2,192.2 1069.1,188.5" fill="none" stroke="#5f2dc8" stroke-width="1.9" stroke-linejoin="round"/></svg>
<span class="t" style="top:333px;font-size:12.4px;color:#222;left:83.06px;transform:scaleX(0.8944);-webkit-text-stroke:0.3px;">1M</span>
<span class="t" style="top:333px;font-size:12.4px;color:#222;left:114.76px;transform:scaleX(0.9002);-webkit-text-stroke:0.3px;">3M</span>
<span class="t" style="top:333px;font-size:12.4px;color:#222;left:146.46px;transform:scaleX(0.9002);-webkit-text-stroke:0.3px;">6M</span>
<span class="t" style="top:333px;font-size:12.4px;color:#222;left:178.46px;transform:scaleX(0.7904);-webkit-text-stroke:0.3px;">YTD</span>
<span class="t" style="top:333px;font-size:12.4px;color:#222;left:215.06px;transform:scaleX(0.8247);-webkit-text-stroke:0.3px;">1Y</span>
<span class="t" style="top:333px;font-size:12.4px;color:#222;left:243.46px;transform:scaleX(0.8577);-webkit-text-stroke:0.3px;">3Y</span>
<span class="t" style="top:333px;font-size:12.4px;color:#1180e0;font-weight:700;left:272.26px;transform:scaleX(0.8775);-webkit-text-stroke:0.3px;">5Y</span>
<span class="t" style="top:333px;font-size:12.4px;color:#9a9a9a;left:301.76px;transform:scaleX(0.8527);-webkit-text-stroke:0.3px;">10Y</span>
<span class="t" style="top:333px;font-size:12.4px;color:#9a9a9a;left:337.26px;transform:scaleX(0.8563);-webkit-text-stroke:0.3px;">MAX</span>
<div class="b" style="left:272px;top:323px;width:14.3px;height:3px;background:#1180e0;"></div>
<div class="b" style="left:1061px;top:333px;width:74px;height:32px;background:#f5f5f5;border:1px solid #dcdcdc;box-sizing:border-box;"></div>
<span class="t" style="top:337px;font-size:11.4px;color:#555;left:1074.08px;transform:scaleX(0.8330);-webkit-text-stroke:0.3px;">Select area</span>
<span class="t" style="top:349px;font-size:11.4px;color:#555;left:1082.08px;transform:scaleX(0.8561);-webkit-text-stroke:0.3px;">to zoom</span>
<span class="t" style="top:545px;font-size:11.4px;color:#555;left:75.68px;transform:scaleX(0.8444);-webkit-text-stroke:0.3px;">2021</span>
<span class="t" style="top:545px;font-size:11.4px;color:#555;left:289.68px;transform:scaleX(0.8444);-webkit-text-stroke:0.3px;">2022</span>
<span class="t" style="top:545px;font-size:11.4px;color:#555;left:503.68px;transform:scaleX(0.8444);-webkit-text-stroke:0.3px;">2023</span>
<span class="t" style="top:545px;font-size:11.4px;color:#555;left:717.68px;transform:scaleX(0.8444);-webkit-text-stroke:0.3px;">2024</span>
<span class="t" style="top:545px;font-size:11.4px;color:#555;left:932.68px;transform:scaleX(0.8444);-webkit-text-stroke:0.3px;">2025</span>
<span class="t" style="top:454px;font-size:10.8px;color:#555;left:1149.39px;transform:scaleX(0.8803);-webkit-text-stroke:0.3px;">1.00</span>
<svg class="b" style="left:1144px;top:504.5px;" width="42.5" height="16.5" viewBox="0 0 42.5 16.5"><path d="M0 8.2 L8.2 0 H42.5 V16.5 H8.2Z" fill="#6133c6"/></svg>
<span class="t" style="top:508px;font-size:11.9px;color:#fff;font-weight:700;left:1152.77px;transform:scaleX(0.9004);-webkit-text-stroke:0.3px;">0.691</span>
<div class="b" style="left:75px;top:634px;width:1149px;height:52px;background:#fff;border:1px solid #1180e0;box-sizing:border-box;"></div>
<span class="t" style="top:651px;font-size:19.6px;color:#1f1f1f;left:95.92px;transform:scaleX(0.9085);-webkit-text-stroke:0.3px;">View and export this data back to 1992.</span>
<a class="t" style="top:651px;font-size:19.6px;color:#1180e0;left:412.92px;transform:scaleX(0.8741);-webkit-text-stroke:0.3px;">Upgrade now.</a>
<span class="t" style="top:708px;font-size:14.5px;color:#111;font-weight:700;left:75.02px;transform:scaleX(0.8048);-webkit-text-stroke:0.3px;">Date</span>
<span class="t" style="top:708px;font-size:14.5px;color:#111;font-weight:700;right:1280px;transform-origin:100% 0;transform:scaleX(0.8261);-webkit-text-stroke:0.3px;">Value</span>
<div class="b" style="left:75px;top:736px;width:565px;height:1px;background:#d6d6d6;"></div>
<div class="b" style="left:75px;top:767px;width:565px;height:1px;background:#dedede;"></div>
<div class="b" style="left:75px;top:798px;width:565px;height:1px;background:#dedede;"></div>
<div class="b" style="left:75px;top:829px;width:565px;height:1px;background:#dedede;"></div>
<div class="b" style="left:75px;top:860px;width:565px;height:1px;background:#dedede;"></div>
<div class="b" style="left:75px;top:891px;width:565px;height:1px;background:#dedede;"></div>
<div class="b" style="left:75px;top:922px;width:565px;height:1px;background:#dedede;"></div>
<span class="t" style="top:708px;font-size:14.5px;color:#111;font-weight:700;left:660.02px;transform:scaleX(0.8048);-webkit-text-stroke:0.3px;">Date</span>
<span class="t" style="top:708px;font-size:14.5px;color:#111;font-weight:700;right:696px;transform-origin:100% 0;transform:scaleX(0.8261);-webkit-text-stroke:0.3px;">Value</span>
<div class="b" style="left:660px;top:736px;width:564px;height:1px;background:#d6d6d6;"></div>
<div class="b" style="left:660px;top:767px;width:564px;height:1px;background:#dedede;"></div>
<div class="b" style="left:660px;top:798px;width:564px;height:1px;background:#dedede;"></div>
<div class="b" style="left:660px;top:829px;width:564px;height:1px;background:#dedede;"></div>
<div class="b" style="left:660px;top:860px;width:564px;height:1px;background:#dedede;"></div>
<div class="b" style="left:660px;top:891px;width:564px;height:1px;background:#dedede;"></div>
<div class="b" style="left:660px;top:922px;width:564px;height:1px;background:#dedede;"></div>
<span class="t" style="top:744px;font-size:14.5px;color:#181818;left:75.02px;transform:scaleX(0.8362);-webkit-text-stroke:0.3px;">December 08, 2025</span>
<span class="t" style="top:744px;font-size:14.5px;color:#181818;right:1280px;transform-origin:100% 0;transform:scaleX(0.8486);-webkit-text-stroke:0.3px;">0.691</span>
<span class="t" style="top:775px;font-size:14.5px;color:#181818;left:75.02px;transform:scaleX(0.8362);-webkit-text-stroke:0.3px;">December 05, 2025</span>
<span class="t" style="top:775px;font-size:14.5px;color:#181818;right:1280px;transform-origin:100% 0;transform:scaleX(0.8486);-webkit-text-stroke:0.3px;">0.691</span>
<span class="t" style="top:806px;font-size:14.5px;color:#181818;left:75.02px;transform:scaleX(0.8362);-webkit-text-stroke:0.3px;">December 04, 2025</span>
<span class="t" style="top:806px;font-size:14.5px;color:#181818;right:1280px;transform-origin:100% 0;transform:scaleX(0.8486);-webkit-text-stroke:0.3px;">0.679</span>
<span class="t" style="top:837px;font-size:14.5px;color:#181818;left:75.02px;transform:scaleX(0.8362);-webkit-text-stroke:0.3px;">December 03, 2025</span>
<span class="t" style="top:837px;font-size:14.5px;color:#181818;right:1280px;transform-origin:100% 0;transform:scaleX(0.8486);-webkit-text-stroke:0.3px;">0.681</span>
<span class="t" style="top:868px;font-size:14.5px;color:#181818;left:75.02px;transform:scaleX(0.8362);-webkit-text-stroke:0.3px;">December 02, 2025</span>
<span class="t" style="top:868px;font-size:14.5px;color:#181818;right:1280px;transform-origin:100% 0;transform:scaleX(0.8486);-webkit-text-stroke:0.3px;">0.666</span>
<span class="t" style="top:899px;font-size:14.5px;color:#181818;left:75.02px;transform:scaleX(0.8362);-webkit-text-stroke:0.3px;">December 01, 2025</span>
<span class="t" style="top:899px;font-size:14.5px;color:#181818;right:1280px;transform-origin:100% 0;transform:scaleX(0.8500);-webkit-text-stroke:0.3px;">0.68</span>
<span class="t" style="top:744px;font-size:14.5px;color:#181818;left:660.02px;transform:scaleX(0.8352);-webkit-text-stroke:0.3px;">October 30, 2025</span>
<span class="t" style="top:744px;font-size:14.5px;color:#181818;right:696px;transform-origin:100% 0;transform:scaleX(0.8486);-webkit-text-stroke:0.3px;">0.651</span>
<span class="t" style="top:775px;font-size:14.5px;color:#181818;left:660.02px;transform:scaleX(0.8352);-webkit-text-stroke:0.3px;">October 29, 2025</span>
<span class="t" style="top:775px;font-size:14.5px;color:#181818;right:696px;transform-origin:100% 0;transform:scaleX(0.8500);-webkit-text-stroke:0.3px;">0.65</span>
<span class="t" style="top:806px;font-size:14.5px;color:#181818;left:660.02px;transform:scaleX(0.8352);-webkit-text-stroke:0.3px;">October 28, 2025</span>
<span class="t" style="top:806px;font-size:14.5px;color:#181818;right:696px;transform-origin:100% 0;transform:scaleX(0.8486);-webkit-text-stroke:0.3px;">0.648</span>
<span class="t" style="top:837px;font-size:14.5px;color:#181818;left:660.02px;transform:scaleX(0.8352);-webkit-text-stroke:0.3px;">October 27, 2025</span>
<span class="t" style="top:837px;font-size:14.5px;color:#181818;right:696px;transform-origin:100% 0;transform:scaleX(0.8486);-webkit-text-stroke:0.3px;">0.674</span>
<span class="t" style="top:868px;font-size:14.5px;color:#181818;left:660.02px;transform:scaleX(0.8352);-webkit-text-stroke:0.3px;">October 24, 2025</span>
<span class="t" style="top:868px;font-size:14.5px;color:#181818;right:696px;transform-origin:100% 0;transform:scaleX(0.8486);-webkit-text-stroke:0.3px;">0.664</span>
<span class="t" style="top:899px;font-size:14.5px;color:#181818;left:660.02px;transform:scaleX(0.8352);-webkit-text-stroke:0.3px;">October 23, 2025</span>
<span class="t" style="top:899px;font-size:14.5px;color:#181818;right:696px;transform-origin:100% 0;transform:scaleX(0.8500);-webkit-text-stroke:0.3px;">0.64</span>
<span class="t" style="top:314px;font-size:14.5px;color:#181818;left:1286.32px;transform:scaleX(0.8509);-webkit-text-stroke:0.3px;">Mont Belvieu Propane Spot Price is at a current level of 0.691, unchanged from 0.691 the previous</span>
<span class="t" style="top:334px;font-size:14.5px;color:#181818;left:1286.32px;transform:scaleX(0.8494);-webkit-text-stroke:0.3px;">market day and down from 0.758 one year ago. This is a change of 0.00% from the previous</span>
<span class="t" style="top:354px;font-size:14.5px;color:#181818;left:1286.32px;transform:scaleX(0.8369);-webkit-text-stroke:0.3px;">market day and -8.84% from one year ago.</span>
<div class="b" style="left:1286px;top:377px;width:544px;height:1px;background:#dedede;"></div>
<span class="t" style="top:389px;font-size:14.5px;color:#181818;left:1286.32px;transform:scaleX(0.8512);-webkit-text-stroke:0.3px;">The Mont Belvieu Propane Spot Price is the current price at which propane produced in Mont</span>
<span class="t" style="top:409px;font-size:14.5px;color:#181818;left:1286.32px;transform:scaleX(0.8474);-webkit-text-stroke:0.3px;">Belvieu, TX is trading in US dollars per gallon. Buyers and sellers in the propane market track the</span>
<span class="t" style="top:429px;font-size:14.5px;color:#181818;left:1286.32px;transform:scaleX(0.8642);-webkit-text-stroke:0.3px;">Mont Belvieu propane spot price as it is a strategic geographic location in North America for the</span>
<span class="t" style="top:449px;font-size:14.5px;color:#181818;left:1286.32px;transform:scaleX(0.8631);-webkit-text-stroke:0.3px;">production and processing of propane, given its proximity for both onshore and offshore</span>
<span class="t" style="top:469px;font-size:14.5px;color:#181818;left:1286.32px;transform:scaleX(0.8652);-webkit-text-stroke:0.3px;">transportation. Historically, the propane spot price peaked during periods of lower national</span>
<span class="t" style="top:489px;font-size:14.5px;color:#181818;left:1286.32px;transform:scaleX(0.8539);-webkit-text-stroke:0.3px;">inventory such as the winter of 2014 with a price of 1.695 USD per gallon.</span>
<div class="b" style="left:1286px;top:512px;width:544px;height:1px;background:#dedede;"></div>
<span class="t" style="top:520px;font-size:14.5px;color:#181818;left:1286.32px;transform:scaleX(0.8362);-webkit-text-stroke:0.3px;">Report</span>
<a class="t" style="top:520px;font-size:14.5px;color:#181818;left:1568.12px;transform:scaleX(0.8441);-webkit-text-stroke:0.3px;text-decoration:underline;text-decoration-thickness:1px;text-underline-offset:1.5px;">Weekly Petroleum Status</a>
<div class="b" style="left:1286px;top:543px;width:544px;height:1px;background:#dedede;"></div>
<span class="t" style="top:551px;font-size:14.5px;color:#181818;left:1286.32px;transform:scaleX(0.8361);-webkit-text-stroke:0.3px;">Category</span>
<a class="t" style="top:551px;font-size:14.5px;color:#181818;left:1568.12px;transform:scaleX(0.8073);-webkit-text-stroke:0.3px;text-decoration:underline;text-decoration-thickness:1px;text-underline-offset:1.5px;">Energy</a>
<div class="b" style="left:1286px;top:574px;width:544px;height:1px;background:#dedede;"></div>
<span class="t" style="top:582px;font-size:14.5px;color:#181818;left:1286.32px;transform:scaleX(0.8226);-webkit-text-stroke:0.3px;">Region</span>
<span class="t" style="top:582px;font-size:14.5px;color:#181818;left:1568.12px;transform:scaleX(0.8977);-webkit-text-stroke:0.3px;">N/A</span>
<div class="b" style="left:1286px;top:605px;width:544px;height:1px;background:#dedede;"></div>
<span class="t" style="top:613px;font-size:14.5px;color:#181818;left:1286.32px;transform:scaleX(0.8313);-webkit-text-stroke:0.3px;">Source</span>
<a class="t" style="top:613px;font-size:14.5px;color:#181818;left:1568.12px;transform:scaleX(0.8672);-webkit-text-stroke:0.3px;text-decoration:underline;text-decoration-thickness:1px;text-underline-offset:1.5px;">Energy Information Administration</a>
<div class="b" style="left:1286px;top:636px;width:544px;height:1px;background:#dedede;"></div>
<span class="t" style="top:708px;font-size:14.5px;color:#181818;left:1286.32px;transform:scaleX(0.8510);-webkit-text-stroke:0.3px;">Last Value</span>
<span class="t" style="top:708px;font-size:14.5px;color:#181818;left:1568.12px;transform:scaleX(0.8348);-webkit-text-stroke:0.3px;">0.691</span>
<div class="b" style="left:1286px;top:731px;width:544px;height:1px;background:#dedede;"></div>
<span class="t" style="top:739px;font-size:14.5px;color:#181818;left:1286.32px;transform:scaleX(0.8566);-webkit-text-stroke:0.3px;">Latest Period</span>
<span class="t" style="top:739px;font-size:14.5px;color:#181818;left:1568.12px;transform:scaleX(0.8366);-webkit-text-stroke:0.3px;">Dec 08 2025</span>
<div class="b" style="left:1286px;top:762px;width:544px;height:1px;background:#dedede;"></div>
<span class="t" style="top:770px;font-size:14.5px;color:#181818;left:1286.32px;transform:scaleX(0.8451);-webkit-text-stroke:0.3px;">Last Updated</span>
<span class="t" style="top:770px;font-size:14.5px;color:#181818;left:1568.12px;transform:scaleX(0.8186);-webkit-text-stroke:0.3px;">Dec 10 2025, 12:02 EST</span>
<div class="b" style="left:1286px;top:793px;width:544px;height:1px;background:#dedede;"></div>
<span class="t" style="top:801px;font-size:14.5px;color:#181818;left:1286.32px;transform:scaleX(0.8248);-webkit-text-stroke:0.3px;">Next Release</span>
<span class="t" style="top:801px;font-size:14.5px;color:#181818;left:1568.12px;transform:scaleX(0.8186);-webkit-text-stroke:0.3px;">Dec 17 2025, 12:00 EST</span>
<div class="b" style="left:1286px;top:824px;width:544px;height:1px;background:#dedede;"></div>
<span class="t" style="top:832px;font-size:14.5px;color:#181818;left:1286.32px;transform:scaleX(0.8249);-webkit-text-stroke:0.3px;">Average Growth Rate</span>
<span class="t" style="top:832px;font-size:14.5px;color:#181818;left:1568.12px;transform:scaleX(0.8112);-webkit-text-stroke:0.3px;">10.76%</span>
<div class="b" style="left:1286px;top:855px;width:544px;height:1px;background:#dedede;"></div>
<span class="t" style="top:863px;font-size:14.5px;color:#181818;left:1286.32px;transform:scaleX(0.8448);-webkit-text-stroke:0.3px;">Value from The Previous Market Day</span>
<span class="t" style="top:863px;font-size:14.5px;color:#181818;left:1568.12px;transform:scaleX(0.8348);-webkit-text-stroke:0.3px;">0.691</span>
<div class="b" style="left:1286px;top:886px;width:544px;height:1px;background:#dedede;"></div>
<span class="t" style="top:894px;font-size:14.5px;color:#181818;left:1286.32px;transform:scaleX(0.8388);-webkit-text-stroke:0.3px;">Change from The Previous Market Day</span>
<span class="t" style="top:894px;font-size:14.5px;color:#181818;left:1568.12px;transform:scaleX(0.8024);-webkit-text-stroke:0.3px;">0.00%</span>
<div class="b" style="left:1286px;top:917px;width:544px;height:1px;background:#dedede;"></div>
<span class="t" style="top:925px;font-size:14.5px;color:#181818;left:1286.32px;transform:scaleX(0.8600);-webkit-text-stroke:0.3px;">Value from 1 Year Ago</span>
<span class="t" style="top:925px;font-size:14.5px;color:#181818;left:1568.12px;transform:scaleX(0.8348);-webkit-text-stroke:0.3px;">0.758</span>
<div class="b" style="left:1286px;top:948px;width:544px;height:1px;background:#dedede;"></div>
<span class="t" style="top:956px;font-size:14.5px;color:#181818;left:1286.32px;transform:scaleX(0.8600);-webkit-text-stroke:0.3px;">Change from 1 Year Ago</span>
<span class="t" style="top:956px;font-size:14.5px;color:#181818;left:1568.12px;transform:scaleX(0.8269);-webkit-text-stroke:0.3px;">-8.84%</span>
<div class="b" style="left:1286px;top:979px;width:544px;height:1px;background:#dedede;"></div>
<span class="t" style="top:987px;font-size:14.5px;color:#181818;left:1286.32px;transform:scaleX(0.8600);-webkit-text-stroke:0.3px;">Frequency</span>
<span class="t" style="top:987px;font-size:14.5px;color:#181818;left:1568.12px;transform:scaleX(0.8377);-webkit-text-stroke:0.3px;">Market Daily</span>
<div class="b" style="left:1286px;top:1010px;width:544px;height:1px;background:#dedede;"></div>
<span class="t" style="top:1018px;font-size:14.5px;color:#181818;left:1286.32px;transform:scaleX(0.8600);-webkit-text-stroke:0.3px;">Unit</span>
<span class="t" style="top:1018px;font-size:14.5px;color:#181818;left:1568.12px;transform:scaleX(0.8105);-webkit-text-stroke:0.3px;">USD per Gallon</span>
<div class="b" style="left:1286px;top:1041px;width:544px;height:1px;background:#dedede;"></div>
</main>
<div class="b" style="left:1872px;top:489.5px;width:30px;height:128.5px;background:#0b7fe4;border-radius:4px 0 0 4px;box-shadow:0 2px 5px rgba(0,0,0,.35);"></div>
<svg class="b" style="left:1881.5px;top:501.5px;" width="10" height="16.5" viewBox="0 0 10 16.5"><path d="M6.6 0 L0.6 9.4 H4.4 L3 16.5 L9.4 6.6 H5.4Z" fill="#fff"/></svg>
<span class="t" style="left:1892.3px;top:527.5px;font-size:13px;color:#fff;font-weight:700;transform-origin:0 0;transform:rotate(90deg) scaleX(0.8196);">QUICKFLOWS</span>
<aside>
<div class="b" style="left:4px;top:921.5px;width:1611px;height:108px;background:#fff;box-shadow:0 0 10px rgba(0,0,0,.10);"></div>
<h2 class="t" style="top:942px;font-size:18.1px;color:#222;font-weight:700;left:28.95px;transform:scaleX(0.8166);-webkit-text-stroke:0.3px;">We value your privacy!</h2>
<span class="t" style="top:985px;font-size:14.5px;color:#444;left:29.02px;transform:scaleX(0.8617);-webkit-text-stroke:0.3px;">YCharts and its third-party tools process personal data. You can opt out of the processing of your personal information by clicking on the “Do Not Process My Personal Information” link.</span>
<a class="t" style="top:985px;font-size:14.5px;color:#1a78d6;left:1366.42px;transform:scaleX(0.8549);-webkit-text-stroke:0.3px;text-decoration:underline;text-decoration-thickness:1px;text-underline-offset:1.5px;">Do Not Process My Personal Information</a>
<svg class="b" style="left:1591px;top:934px;" width="9.5" height="9.5" viewBox="0 0 9.5 9.5"><path d="M0.4 0.4 L9.1 9.1 M9.1 0.4 L0.4 9.1" stroke="#6b7a8f" stroke-width="1.1"/></svg>
</aside>
<div class="b" style="left:1825px;top:952px;width:60px;height:60px;background:#0b7fe4;border-radius:50%;box-shadow:0 1px 4px rgba(0,0,0,.3);"></div>
<svg class="b" style="left:1841px;top:968px;" width="28" height="28" viewBox="0 0 28 28"><path d="M9 2.5 H24 Q25.8 2.5 25.8 4.3 V14.2 Q25.8 16 24 16 H22.5" fill="none" stroke="#fff" stroke-width="2"/><path d="M4 8.2 H18.2 Q20 8.2 20 10 V18.6 Q20 20.4 18.2 20.4 H9 L4.6 24.6 V20.4 H4 Q2.2 20.4 2.2 18.6 V10 Q2.2 8.2 4 8.2Z" fill="none" stroke="#fff" stroke-width="2" stroke-linejoin="round"/></svg>
</div></div>
<div class="b" style="left:1901px;top:80px;width:15px;height:948px;background:#fbfbfb;border-radius:0 8px 8px 0;"></div>
<svg class="b" style="left:1903.5px;top:85.5px;" width="10" height="7" viewBox="0 0 10 7"><path d="M5 0.5 L9.6 6.5 H0.4Z" fill="#8a8a8a"/></svg>
<div class="b" style="left:1904px;top:97.5px;width:9px;height:486.5px;background:#8c8c8c;border-radius:4.5px;"></div>
<svg class="b" style="left:1903.5px;top:1014.5px;" width="10" height="7" viewBox="0 0 10 7"><path d="M5 6.5 L9.6 0.5 H0.4Z" fill="#8a8a8a"/></svg>
<div class="b" style="left:0px;top:1031.5px;width:1920px;height:48.5px;background:linear-gradient(90deg,#152b30 0%,#162a2f 22%,#21282a 26%,#36251c 29.5%,#3a251b 31%,#23272a 34.5%,#1f2a2f 38%,#2d2622 44%,#3b271d 48%,#3d281d 65%,#38261d 68%,#1f2b30 72.5%,#1b2d34 84%,#2b2620 86.5%,#35241b 87.8%,#22282b 89.5%,#17323c 92%,#15343f 100%);"></div>
<svg class="b" style="left:17.8px;top:1041px;" width="27" height="26" viewBox="0 0 27 26"><defs><linearGradient id="mn" x1="0.7" y1="0" x2="0.3" y2="1"><stop offset="0" stop-color="#f9c93f"/><stop offset="1" stop-color="#f5831a"/></linearGradient><linearGradient id="cl" x1="0" y1="0" x2="0" y2="1"><stop offset="0" stop-color="#eef3fd"/><stop offset="1" stop-color="#8fb3ec"/></linearGradient><mask id="mk"><rect x="0" y="0" width="27" height="26" fill="#fff"/><circle cx="7.2" cy="9.2" r="9.6" fill="#000"/></mask></defs><circle cx="12.6" cy="14" r="10.6" fill="url(#mn)" mask="url(#mk)"/><g fill="url(#cl)"><ellipse cx="8" cy="7.6" rx="7" ry="3"/><circle cx="6.6" cy="5.2" r="3.4"/><circle cx="11" cy="6" r="2.6"/><ellipse cx="18.4" cy="20.3" rx="7" ry="3"/><circle cx="17.2" cy="17.8" r="3.4"/><circle cx="21.6" cy="18.8" r="2.5"/></g></svg>
<span class="t" style="top:1042px;font-size:12.3px;color:#fff;left:50.4px;transform:scaleX(0.8541);-webkit-text-stroke:0.15px;">18°F</span>
<span class="t" style="top:1058px;font-size:12.3px;color:#f0f0f0;left:49.8px;transform:scaleX(0.9857);-webkit-text-stroke:0.1px;">Partly cloudy</span>
<svg class="b" style="left:661px;top:1044.5px;" width="23.5" height="23.5" viewBox="0 0 23.5 23.5"><defs><linearGradient id="wl" x1="0" y1="0" x2="1" y2="1"><stop offset="0" stop-color="#6fd8ff"/><stop offset="1" stop-color="#0f9af0"/></linearGradient></defs><rect x="0" y="0" width="11.2" height="11.2" fill="url(#wl)"/><rect x="12.3" y="0" width="11.2" height="11.2" fill="url(#wl)"/><rect x="0" y="12.3" width="11.2" height="11.2" fill="url(#wl)"/><rect x="12.3" y="12.3" width="11.2" height="11.2" fill="url(#wl)"/></svg>
<div class="b" style="left:698px;top:1041.3px;width:218.5px;height:29.5px;background:#f3f3f3;border-radius:15px;"></div>
<svg class="b" style="left:708.5px;top:1048.5px;" width="15" height="15" viewBox="0 0 15 15"><circle cx="6" cy="6" r="4.9" fill="none" stroke="#2b2b2b" stroke-width="1.5"/><path d="M9.6 9.6 L14 14" stroke="#2b2b2b" stroke-width="1.7" stroke-linecap="round"/></svg>
<span class="t" style="top:1049px;font-size:14.5px;color:#636363;left:734.5px;transform:scaleX(0.8813);">Search</span>
<svg class="b" style="left:928.5px;top:1044.5px;" width="25" height="23" viewBox="0 0 25 23"><rect x="0" y="6" width="18" height="16" rx="2" fill="#5b5b5b"/><rect x="7" y="0" width="18" height="16" rx="2" fill="#f2f2f2"/><rect x="7" y="6" width="11" height="10" fill="#a9a9a9"/></svg>
<svg class="b" style="left:973.5px;top:1044.5px;" width="23" height="23" viewBox="0 0 23 23"><defs><linearGradient id="cpc" x1="0" y1="0" x2="1" y2="0"><stop offset="0" stop-color="#2b8fe9"/><stop offset="0.42" stop-color="#3fc0c8"/><stop offset="0.58" stop-color="#c65ad6"/><stop offset="1" stop-color="#8f5cf2"/></linearGradient><linearGradient id="cpd" x1="0" y1="0" x2="0.3" y2="1"><stop offset="0" stop-color="#ffc83c" stop-opacity="0"/><stop offset="0.5" stop-color="#ffc83c" stop-opacity="0"/><stop offset="0.78" stop-color="#ffb03c" stop-opacity=".95"/><stop offset="1" stop-color="#f0605f" stop-opacity="1"/></linearGradient></defs><path d="M8 1 H13.5 Q15.7 1 16.3 3.2 L17.2 6.5 H19.5 Q22.3 6.5 21.5 9.3 L19 19 Q18.3 22 15.4 22 H9.5 Q7.3 22 6.7 19.8 L5.8 16.5 H3.5 Q0.7 16.5 1.5 13.7 L4 4 Q4.7 1 8 1Z" fill="url(#cpc)"/><path d="M8 1 H13.5 Q15.7 1 16.3 3.2 L17.2 6.5 H19.5 Q22.3 6.5 21.5 9.3 L19 19 Q18.3 22 15.4 22 H9.5 Q7.3 22 6.7 19.8 L5.8 16.5 H3.5 Q0.7 16.5 1.5 13.7 L4 4 Q4.7 1 8 1Z" fill="url(#cpd)"/><path d="M10 6.5 H13.8 L13 16.5 H9.2Z" fill="#2a1a30" opacity=".85"/></svg>
<svg class="b" style="left:1017px;top:1044px;" width="25" height="23" viewBox="0 0 25 23"><path d="M1 3 Q1 1.5 2.5 1.5 H9 L11.5 4 H22.5 Q24 4 24 5.5 V8 H1Z" fill="#e8a317"/><rect x="1" y="5.5" width="23" height="16.5" rx="1.5" fill="#ffd04f"/><rect x="6" y="16.5" width="13" height="5.5" rx="1.5" fill="#1a73d6"/></svg>
<svg class="b" style="left:1060.5px;top:1043.5px;" width="24" height="25" viewBox="0 0 24 25"><path d="M7.5 6 V3.5 Q7.5 1.2 9.8 1.2 H14.2 Q16.5 1.2 16.5 3.5 V6" fill="none" stroke="#38b6f1" stroke-width="1.8"/><path d="M0.5 5.5 H23.5 V20.5 Q23.5 24 20 24 H4 Q0.5 24 0.5 20.5Z" fill="#f4f4f4"/><rect x="7.4" y="10" width="4.2" height="4.2" fill="#f25022"/><rect x="12.4" y="10" width="4.2" height="4.2" fill="#7fba00"/><rect x="7.4" y="15" width="4.2" height="4.2" fill="#00a4ef"/><rect x="12.4" y="15" width="4.2" height="4.2" fill="#ffb900"/></svg>
<svg class="b" style="left:1105px;top:1043.5px;" width="24" height="24" viewBox="0 0 24 24"><defs><radialGradient id="ff" cx="0.6" cy="0.25" r="0.9"><stop offset="0" stop-color="#ffe14a"/><stop offset="0.45" stop-color="#ff8a1f"/><stop offset="0.85" stop-color="#f0344e"/><stop offset="1" stop-color="#d8248a"/></radialGradient></defs><path d="M14 0.5 Q15 3 17.5 5 Q23 9 23 14 A11 11 0 0 1 1 14 Q1 9 4 6 Q4 8 5.5 8.5 Q6 4.5 10 3 Q9.5 5 11 6.5 Q14.5 5 14 0.5Z" fill="url(#ff)"/><circle cx="12" cy="14" r="5" fill="#6b3fd0"/><path d="M7 12 Q10 9.5 14 11.5 Q12 12 11.5 13.5 Q14.5 14 15 16.5 Q12 19.5 8.2 17.4 Q6.5 15 7 12Z" fill="#ff9a2e"/></svg>
<div class="b" style="left:1141.5px;top:1036.5px;width:39.5px;height:39px;background:rgba(255,255,255,.075);border-radius:5px;border:1px solid rgba(255,255,255,.06);box-sizing:border-box;"></div>
<svg class="b" style="left:1148.5px;top:1044px;" width="25" height="25" viewBox="0 0 25 25"><defs><linearGradient id="eg1" x1="0" y1="0" x2="1" y2="0.4"><stop offset="0" stop-color="#2aa6e6"/><stop offset="0.6" stop-color="#35c1b0"/><stop offset="1" stop-color="#6dd34d"/></linearGradient><linearGradient id="eg2" x1="0" y1="0" x2="0.6" y2="1"><stop offset="0" stop-color="#1b75d0"/><stop offset="1" stop-color="#0c4fa8"/></linearGradient></defs><path d="M12.5 0.5 A12 12 0 0 1 24.5 11 Q24.5 16 19.5 16 Q15.5 16 15 13.5 Q17 12 16 9.5 Q14.5 6.5 11 6.5 Q5 6.5 1 12 Q1 0.5 12.5 0.5Z" fill="url(#eg1)"/><path d="M1 12 Q4.5 6.5 11 6.5 Q8 8 7.5 12 Q7.5 19 15 22.5 Q17 23.3 20.5 21.5 Q17 24.8 12.5 24.5 A12 12 0 0 1 1 12Z" fill="url(#eg2)"/><path d="M7.5 12 Q7.5 19 15 22.5 Q19 23 22.5 18.5 Q18 20.5 14 18 Q10.5 15.5 11 12 Q9 10 7.5 12Z" fill="#1560c0"/></svg>
<div class="b" style="left:1153px;top:1071.7px;width:16px;height:3px;background:#4cc2ff;border-radius:1.5px;"></div>
<svg class="b" style="left:1193px;top:1044px;" width="24" height="24" viewBox="0 0 24 24"><path d="M3 2 H14 L16 6 H1Z" fill="#5a5a5a"/><rect x="2" y="6" width="14" height="12" fill="#8c8c8c"/><rect x="3.5" y="8" width="11" height="5" fill="#cfe6f5"/><rect x="1" y="17" width="16" height="3" fill="#3e3e3e"/><rect x="12" y="11" width="11.5" height="12.5" fill="#f4f4f4" stroke="#7a7a7a" stroke-width="0.6"/><rect x="13.5" y="13" width="4" height="4" fill="#5c8a3a"/><path d="M18.5 13.5 H22 M18.5 15.5 H22 M13.5 18.5 H22 M13.5 20.5 H22" stroke="#777" stroke-width="0.9"/></svg>
<svg class="b" style="left:1238px;top:1045px;" width="22" height="22" viewBox="0 0 22 22"><defs><radialGradient id="gl" cx="0.35" cy="0.3" r="0.85"><stop offset="0" stop-color="#b9d4ee"/><stop offset="0.5" stop-color="#5d8fc6"/><stop offset="1" stop-color="#2b5a94"/></radialGradient></defs><circle cx="11" cy="11" r="10.8" fill="url(#gl)"/><path d="M5 6 Q8 3.5 11 5 Q10 8.5 7 9.5 Q5 8.5 5 6Z M12 10 Q16 9 17.5 12 Q16.5 16.5 13 17 Q11 14 12 10Z" fill="#8db4dc" opacity=".7"/></svg>
<div class="b" style="left:1246px;top:1072px;width:7px;height:2.6px;background:#8f8f8f;border-radius:1.3px;"></div>
<svg class="b" style="left:1720px;top:1052px;" width="12" height="8" viewBox="0 0 12 8"><path d="M1 7 L6 1.5 L11 7" fill="none" stroke="#fff" stroke-width="1.4"/></svg>
<svg class="b" style="left:1750px;top:1047px;" width="17" height="18" viewBox="0 0 17 18"><path d="M2.2 9.5 A6.3 6.3 0 0 1 12.6 4.2 M14.2 8 A6.3 6.3 0 0 1 4 13.4" fill="none" stroke="#fff" stroke-width="1.2"/><path d="M12.9 0.8 V4.6 H9.1 M3.4 17 V13.2 H7.2" fill="none" stroke="#fff" stroke-width="1.2"/><circle cx="12.3" cy="13.3" r="3.8" fill="#1f8ff0"/></svg>
<svg class="b" style="left:1782px;top:1047.5px;" width="17" height="17" viewBox="0 0 17 17"><rect x="0.7" y="1.7" width="11" height="9.6" rx="0.8" fill="none" stroke="#fff" stroke-width="1.2"/><path d="M6.2 11.4 V14.6 M2.6 15 H10.8" stroke="#fff" stroke-width="1.2"/><rect x="11.6" y="0.7" width="3.6" height="5.4" rx="0.8" fill="#1c2d34" stroke="#fff" stroke-width="1.1"/><path d="M13.4 6.2 V14.6 H10.8" fill="none" stroke="#fff" stroke-width="1.1"/></svg>
<svg class="b" style="left:1805.5px;top:1048px;" width="18" height="16" viewBox="0 0 18 16"><path d="M1 5.6 H4 L8 2 V14 L4 10.4 H1Z" fill="none" stroke="#fff" stroke-width="1.2" stroke-linejoin="round"/><path d="M10.4 5.4 Q12 8 10.4 10.6" fill="none" stroke="#fff" stroke-width="1.1"/><path d="M12.6 3.6 Q15.2 8 12.6 12.4" fill="none" stroke="#9aa4a8" stroke-width="1"/><path d="M14.8 2 Q18.2 8 14.8 14" fill="none" stroke="#6d787d" stroke-width="1"/></svg>
<span class="t" style="top:1042px;font-size:12.3px;color:#fff;right:19.5px;transform-origin:100% 0;transform:scaleX(0.9324);-webkit-text-stroke:0.1px;">5:26 PM</span>
<span class="t" style="top:1058px;font-size:12.3px;color:#fff;right:19.3px;transform-origin:100% 0;-webkit-text-stroke:0.1px;">12/14/2025</span>
</body></html>
